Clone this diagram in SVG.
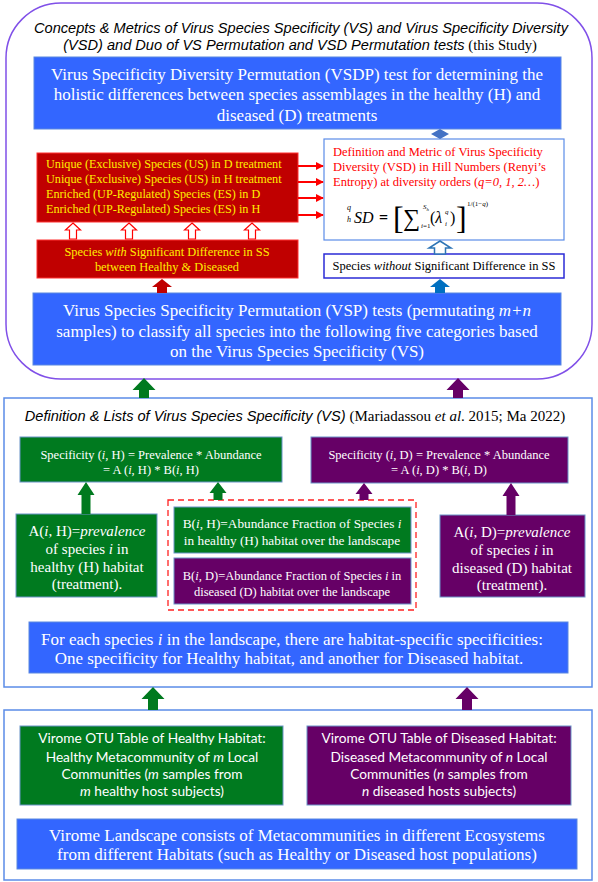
<svg xmlns="http://www.w3.org/2000/svg" width="598" height="882" viewBox="0 0 598 882">
<defs>
<marker id="ra" viewBox="0 0 10 10" refX="9" refY="5" markerWidth="4" markerHeight="4" orient="auto"><path d="M0,0 L10,5 L0,10 Z" fill="#ff0000"/></marker>
<style>
.blue{fill:#3366ff;stroke:#5b87e0;stroke-width:1}
.red{fill:#c00000;stroke:#ff3030;stroke-width:1}
.grn{fill:#007a1f;stroke:#6a93c8;stroke-width:1}
.pur{fill:#660066;stroke:#6a93c8;stroke-width:1}
.wt{fill:#ffffff;text-anchor:middle}
.yl{fill:#ffee00}
.it{font-style:italic}
.frame{fill:#ffffff;stroke:#5b8ce8;stroke-width:1.5}
</style>
</defs>
<rect width="598" height="882" fill="#ffffff"/>

<g id="outer-top">
<rect x="6" y="3" width="586" height="376" rx="55" ry="55" fill="#ffffff" stroke="#8050e8" stroke-width="1.5"/>
<text font-family="'Liberation Sans', Arial, sans-serif" font-style="italic" x="301" y="33" font-size="14.6" text-anchor="middle" fill="#000">Concepts &amp; Metrics of Virus Species Specificity (VS)  and Virus Specificity Diversity</text>
<text x="300" y="50" font-size="14.6" text-anchor="middle" fill="#000"><tspan font-family="'Liberation Sans', Arial, sans-serif" font-style="italic">(VSD) and Duo of VS Permutation and VSD Permutation tests</tspan><tspan font-family="'Liberation Serif', 'DejaVu Serif', serif"> (this Study)</tspan></text>
</g>

<g id="vsdp">
<rect class="blue" x="34" y="57" width="527" height="72"/>
<text font-family="'Liberation Serif', 'DejaVu Serif', serif" class="wt" font-size="17"><tspan x="297" y="80">Virus Specificity Diversity Permutation (VSDP) test for determining the</tspan><tspan x="297" y="100">holistic differences between species assemblages  in the healthy (H) and</tspan><tspan x="297" y="121">diseased  (D) treatments</tspan></text>
</g>

<g id="categories">
<rect class="red" x="37" y="153" width="261" height="69"/>
<text font-family="'Liberation Serif', 'DejaVu Serif', serif" class="yl" font-size="12.2"><tspan x="46" y="168">Unique (Exclusive)  Species (US) in D treatment</tspan><tspan x="46" y="183">Unique (Exclusive)  Species (US) in H treatment</tspan><tspan x="46" y="198">Enriched  (UP-Regulated) Species (ES) in D</tspan><tspan x="46" y="213">Enriched  (UP-Regulated) Species (ES) in H</tspan></text>
</g>

<g id="sig-species">
<rect class="red" x="37" y="240" width="261" height="38"/>
<text font-family="'Liberation Serif', 'DejaVu Serif', serif" class="yl" font-size="12.4" text-anchor="middle"><tspan x="167" y="256">Species <tspan class="it">with</tspan> Significant Difference  in SS</tspan><tspan x="167" y="271">between  Healthy &amp; Diseased</tspan></text>
</g>

<g id="vsd-metric">
<rect x="324" y="139" width="240" height="101" fill="#ffffff" stroke="#5b8ce8" stroke-width="1.2"/>
<text font-family="'Liberation Serif', 'DejaVu Serif', serif" font-size="12.5" fill="#ff0000"><tspan x="333" y="156">Definition and Metric of Virus Specificity</tspan><tspan x="333" y="171">Diversity (VSD) in Hill Numbers  (Renyi’s</tspan><tspan x="333" y="186">Entropy) at diversity orders  (<tspan class="it">q=0, 1, 2…</tspan>)</tspan></text>
<g font-family="'Liberation Serif', 'DejaVu Serif', serif" font-style="italic" fill="#000">
<text x="347" y="210" font-size="8">q</text>
<text x="347" y="222" font-size="8">h</text>
<text x="354" y="223" font-size="16">SD</text>
<text x="379" y="223" font-size="16" font-style="normal" font-weight="bold">=</text>
<text x="393" y="229" font-size="32" font-style="normal">[</text>
<text x="403" y="226" font-size="24" font-style="normal">∑</text>
<text x="423" y="209" font-size="7">S<tspan font-size="5" dy="2">h</tspan></text>
<text x="421" y="228" font-size="7">i<tspan font-style="normal">=1</tspan></text>
<text x="430" y="223" font-size="16"><tspan font-style="normal">(</tspan>λ</text>
<text x="445" y="214" font-size="7">q</text>
<text x="445" y="226" font-size="7">i</text>
<text x="450" y="223" font-size="16" font-style="normal">)</text>
<text x="456" y="229" font-size="32" font-style="normal">]</text>
<text x="467" y="206" font-size="7" font-style="normal">1/(1−<tspan font-style="italic">q</tspan>)</text>
</g>
</g>

<g id="no-sig-species">
<rect x="324" y="254" width="240" height="24" fill="#ffffff" stroke="#2b2bd6" stroke-width="1.5"/>
<text font-family="'Liberation Serif', 'DejaVu Serif', serif" x="444" y="270" font-size="12.5" text-anchor="middle" fill="#000">Species <tspan class="it">without</tspan> Significant Difference  in SS</text>
</g>

<g id="vsp">
<rect class="blue" x="33" y="293" width="528" height="72"/>
<text font-family="'Liberation Serif', 'DejaVu Serif', serif" class="wt" font-size="17"><tspan x="297" y="316">Virus Species Specificity Permutation (VSP) tests (permutating <tspan class="it">m+n</tspan></tspan><tspan x="297" y="337">samples) to classify all species into the following five categories based</tspan><tspan x="297" y="357">on the Virus Species Specificity (VS)</tspan></text>
</g>

<g id="middle-frame">
<rect class="frame" x="4" y="398" width="588" height="289"/>
<text x="295" y="421" font-size="14.6" text-anchor="middle" fill="#000"><tspan font-family="'Liberation Sans', Arial, sans-serif" font-style="italic">Definition &amp; Lists of Virus Species Specificity (VS)</tspan><tspan font-family="'Liberation Serif', 'DejaVu Serif', serif" font-size="15"> (Mariadassou <tspan class="it">et al</tspan>. 2015; Ma 2022)</tspan></text>
</g>

<g id="spec-h">
<rect class="grn" x="20" y="437" width="262" height="45"/>
<text font-family="'Liberation Serif', 'DejaVu Serif', serif" class="wt" font-size="12.5"><tspan x="151" y="459">Specificity (<tspan class="it">i</tspan>, H) = Prevalence  * Abundance</tspan><tspan x="151" y="474">= A (<tspan class="it">i</tspan>, H) * B(<tspan class="it">i</tspan>, H)</tspan></text>
</g>

<g id="spec-d">
<rect class="pur" x="311" y="437" width="257" height="46"/>
<text font-family="'Liberation Serif', 'DejaVu Serif', serif" class="wt" font-size="12.5"><tspan x="439" y="459">Specificity (<tspan class="it">i</tspan>, D) = Prevalence  * Abundance</tspan><tspan x="439" y="474">= A (<tspan class="it">i</tspan>, D) * B(<tspan class="it">i</tspan>, D)</tspan></text>
</g>

<g id="a-h">
<rect class="grn" x="16" y="514" width="141" height="83"/>
<text font-family="'Liberation Serif', 'DejaVu Serif', serif" class="wt" font-size="15"><tspan x="87" y="536">A(<tspan class="it">i</tspan>, H)=<tspan class="it">prevalence</tspan></tspan><tspan x="87" y="554">of species  <tspan class="it">i</tspan> in</tspan><tspan x="87" y="572">healthy  (H) habitat</tspan><tspan x="87" y="589">(treatment).</tspan></text>
</g>

<g id="abundance-group">
<rect x="168" y="500" width="248" height="110" fill="none" stroke="#ff2020" stroke-width="1.3" stroke-dasharray="6,4"/>
</g>

<g id="b-h">
<rect class="grn" x="174" y="507" width="237" height="46"/>
<text font-family="'Liberation Serif', 'DejaVu Serif', serif" class="wt" font-size="13.3"><tspan x="292" y="528">B(<tspan class="it">i</tspan>, H)=Abundance Fraction of Species <tspan class="it">i</tspan></tspan><tspan x="292" y="545">in healthy (H) habitat over the landscape</tspan></text>
</g>

<g id="b-d">
<rect class="pur" x="174" y="558" width="237" height="46"/>
<text font-family="'Liberation Serif', 'DejaVu Serif', serif" class="wt" font-size="12.5"><tspan x="292" y="580">B(<tspan class="it">i</tspan>, D)=Abundance Fraction of Species <tspan class="it">i</tspan> in</tspan><tspan x="292" y="596">diseased  (D) habitat over the landscape</tspan></text>
</g>

<g id="a-d">
<rect class="pur" x="440" y="515" width="145" height="82"/>
<text font-family="'Liberation Serif', 'DejaVu Serif', serif" class="wt" font-size="15"><tspan x="512" y="537">A(<tspan class="it">i</tspan>, D)=<tspan class="it">prevalence</tspan></tspan><tspan x="512" y="555">of species  <tspan class="it">i</tspan> in</tspan><tspan x="512" y="573">diseased  (D) habitat</tspan><tspan x="512" y="590">(treatment).</tspan></text>
</g>

<g id="habitat-specificity">
<rect class="blue" x="29" y="622" width="539" height="51"/>
<text font-family="'Liberation Serif', 'DejaVu Serif', serif" class="wt" font-size="17"><tspan x="292" y="645">For each species  <tspan class="it">i</tspan> in the landscape,  there are habitat-specific specificities:</tspan><tspan x="289" y="664">One specificity  for Healthy  habitat, and another for Diseased  habitat.</tspan></text>
</g>

<g id="bottom-frame">
<rect class="frame" x="4" y="710" width="588" height="170"/>
</g>

<g id="otu-h">
<rect class="grn" x="20" y="726" width="263" height="79"/>
<text font-family="Lato, 'Liberation Sans', sans-serif" class="wt" font-size="13.7"><tspan x="152" y="743">Virome OTU Table of Healthy Habitat:</tspan><tspan x="152" y="762">Healthy Metacommunity of <tspan class="it">m</tspan> Local</tspan><tspan x="152" y="779">Communities (<tspan class="it">m</tspan> samples from</tspan><tspan x="152" y="796"><tspan class="it">m</tspan> healthy host subjects)</tspan></text>
</g>

<g id="otu-d">
<rect class="pur" x="307" y="726" width="264" height="79"/>
<text font-family="Lato, 'Liberation Sans', sans-serif" class="wt" font-size="13.7"><tspan x="439" y="743">Virome OTU Table of Diseased Habitat:</tspan><tspan x="439" y="762">Diseased Metacommunity of <tspan class="it">n</tspan> Local</tspan><tspan x="439" y="779">Communities (<tspan class="it">n</tspan> samples from</tspan><tspan x="439" y="796"><tspan class="it">n</tspan> diseased hosts subjects)</tspan></text>
</g>

<g id="landscape">
<rect class="blue" x="17" y="819" width="560" height="50"/>
<text font-family="'Liberation Serif', 'DejaVu Serif', serif" class="wt" font-size="17"><tspan x="297" y="841">Virome Landscape consists of Metacommunities  in different Ecosystems</tspan><tspan x="297" y="860">from different Habitats (such as Healthy or Diseased  host populations)</tspan></text>
</g>

<g id="connectors">
<path d="M440,129 L449,134 L440,139 L431,134 Z" fill="#4472c4"/>
<g stroke="#ff0000" stroke-width="2" marker-end="url(#ra)">
<line x1="298" y1="166" x2="323" y2="166"/>
<line x1="298" y1="182" x2="323" y2="182"/>
<line x1="298" y1="198" x2="323" y2="198"/>
<line x1="298" y1="215" x2="323" y2="215"/>
</g>
<g fill="#ffffff" stroke="#ff0000" stroke-width="1.2">
<path d="M73,223 L80.5,230 L76.5,230 L76.5,239 L69.5,239 L69.5,230 L65.5,230 Z"/>
<path d="M129,223 L136.5,230 L132.5,230 L132.5,239 L125.5,239 L125.5,230 L121.5,230 Z"/>
<path d="M192,223 L199.5,230 L195.5,230 L195.5,239 L188.5,239 L188.5,230 L184.5,230 Z"/>
<path d="M252,223 L259.5,230 L255.5,230 L255.5,239 L248.5,239 L248.5,230 L244.5,230 Z"/>
</g>
<path d="M440,241 L451,248 L445.5,248 L445.5,254 L434.5,254 L434.5,248 L429,248 Z" fill="#ffffff" stroke="#2e75b6" stroke-width="1.5"/>
<path d="M162,279 L172,287 L167,287 L167,293 L157,293 L157,287 L152,287 Z" fill="#c00000"/>
<path d="M440,279 L450,287 L445,287 L445,293 L435,293 L435,287 L430,287 Z" fill="#0070c0"/>
<path d="M144,378 L155.5,390 L149,390 L149,398 L139,398 L139,390 L132.5,390 Z" fill="#007a1f"/>
<path d="M458,378 L469.5,390 L463,390 L463,398 L453,398 L453,390 L446.5,390 Z" fill="#660066"/>
<path d="M86,482 L94.5,495 L90.5,495 L90.5,514 L81.5,514 L81.5,495 L77.5,495 Z" fill="#007a1f"/>
<path d="M218,482 L226.5,493 L222.5,493 L222.5,500 L213.5,500 L213.5,493 L209.5,493 Z" fill="#007a1f"/>
<path d="M364,483 L372.5,494 L368.5,494 L368.5,500 L359.5,500 L359.5,494 L355.5,494 Z" fill="#660066"/>
<path d="M511,483 L519.5,496 L515.5,496 L515.5,515 L506.5,515 L506.5,496 L502.5,496 Z" fill="#660066"/>
<path d="M153,687 L164.5,699 L158,699 L158,710 L148,710 L148,699 L141.5,699 Z" fill="#007a1f"/>
<path d="M467,687 L478.5,699 L472,699 L472,710 L462,710 L462,699 L455.5,699 Z" fill="#660066"/>
</g>
</svg>
